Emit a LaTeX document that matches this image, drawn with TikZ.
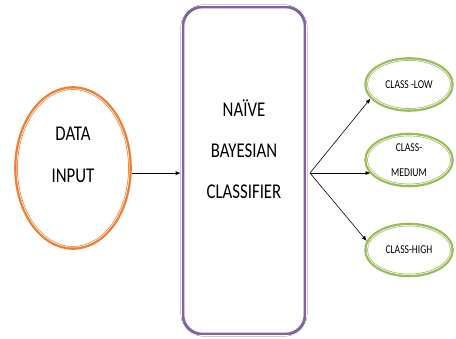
\documentclass[tikz,border=0pt]{standalone}
\usepackage{fontspec}
\setmainfont{Carlito}
\newfontfamily\diagfont[FakeStretch=0.8]{Carlito}
\usetikzlibrary{arrows.meta,shapes.geometric}
\definecolor{inorange}{RGB}{237,125,49}
\definecolor{nbpurple}{RGB}{128,100,162}
\definecolor{outgreen}{RGB}{155,187,89}
\tikzset{
    rimline/.style={line width=3.6pt},
    stripe/.style={draw=white, line width=0.6pt},
    bigtext/.style={align=center, font=\diagfont\fontsize{21}{42}\selectfont},
    smalltext/.style={align=center, font=\diagfont\fontsize{12}{25}\selectfont},
    classset/.style={ellipse, draw=outgreen, rimline, minimum width=86pt, minimum height=51pt, inner sep=0pt, smalltext},
    flow/.style={-{Latex[length=5pt,width=4pt]}, line width=0.6pt}
}
\begin{document}
\begin{tikzpicture}[x=1pt, y=1pt]
                \useasboundingbox (0,0) rectangle (456,339);

                %Draw the data input ellipse
                \node[ellipse, draw=inorange, rimline, minimum width=114pt, minimum height=160pt, inner sep=0pt] 
                (data) at (73,171) {};
                \draw[stripe] (data.center) ellipse [x radius=56.2, y radius=79.2];
                \node[bigtext] (datatext) at (73,184) {DATA\\INPUT};

                %Draw the classifier box
                \node[draw=nbpurple, rimline, rounded corners=20pt, minimum width=123pt, minimum height=328pt, inner sep=0pt] 
                (nb) at (244,168.5) {};
                \draw[stripe, rounded corners=19.2pt] 
                ([shift={(0.8,0.8)}]nb.south west) rectangle ([shift={(-0.8,-0.8)}]nb.north east);
                \node[bigtext, font=\diagfont\fontsize{21}{41}\selectfont] (nbtext) at (244,190) {NAÏVE\\BAYESIAN\\CLASSIFIER};

                %Draw the output classes
                \node[classset] (low) at (409,254.5) {CLASS -LOW};
                \node[classset] (medium) at (409,179) {CLASS-\\MEDIUM};
                \node[classset] (high) at (409,89) {CLASS-HIGH};
                \foreach \c in {low,medium,high}
                    \draw[stripe] (\c.center) ellipse [x radius=42.2, y radius=24.7];

                %Draw the arrows
                \draw[flow] (data.-5) -- (data.-5 -| nb.west);
                \coordinate (split) at (310,166);
                \draw[flow] (split) -- (low.200);
                \draw[flow] (split) -- (split -| medium.200);
                \draw[flow] (split) -- (high.168);

            \end{tikzpicture}
\end{document}
